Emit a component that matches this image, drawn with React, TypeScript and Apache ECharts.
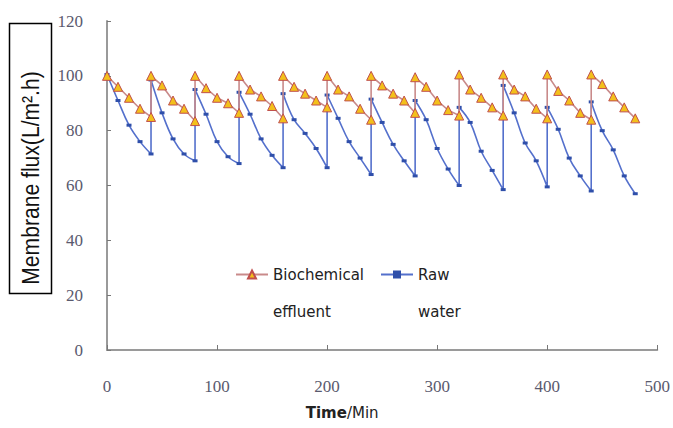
import React, { useEffect, useRef } from "react";
import * as echarts from "echarts";

// Time (min): each 40-min filtration cycle sampled every 10 min; the flux jumps back at each cycle boundary
const timeMin = [
  0, 10, 20, 30, 40,
  40, 50, 60, 70, 80,
  80, 90, 100, 110, 120,
  120, 130, 140, 150, 160,
  160, 170, 180, 190, 200,
  200, 210, 220, 230, 240,
  240, 250, 260, 270, 280,
  280, 290, 300, 310, 320,
  320, 330, 340, 350, 360,
  360, 370, 380, 390, 400,
  400, 410, 420, 430, 440,
  440, 450, 460, 470, 480,
];

const biochemicalEffluent = [
  100, 96, 92, 88, 85,
  100, 96.5, 91, 88, 83.5,
  100, 95.5, 92, 90, 86.5,
  100, 95, 92.5, 89, 84.5,
  100, 96, 93.5, 91, 88.5,
  100, 95, 92.5, 88, 84,
  100, 96.5, 93.5, 91, 86.5,
  99.5, 96, 91, 87.5, 85.5,
  100.5, 95, 92, 88.5, 85.5,
  100.5, 95, 92.5, 88, 84.5,
  100.5, 94.5, 91, 86.5, 84,
  100.5, 97, 92.5, 88.5, 84.5,
];

const rawWater = [
  100.5, 91, 82, 76, 71.5,
  98.5, 86.5, 77, 71.5, 69,
  95, 86, 76, 70.5, 68,
  94, 86, 77, 71, 66.5,
  93.5, 84, 79, 73.5, 66.5,
  93, 84.5, 76, 70, 64,
  91.5, 83, 75, 69, 63.5,
  91, 84, 73.5, 66, 60,
  88.5, 83, 72.5, 65.5, 58.5,
  96.5, 86.5, 75.5, 69, 59.5,
  88.5, 80.5, 70, 63.5, 58,
  90.5, 80, 73, 63.5, 57,
];

const seriesNames = ["Biochemical effluent", "Raw water"];
const legendLabels: Record<string, string> = {
  "Biochemical effluent": "\nBiochemical\neffluent",
  "Raw water": "\nRaw\nwater",
};
const yAxisTitle = "Membrane flux(L/m².h)";
const xAxisTitleBold = "Time";
const xAxisTitleRest = "/Min";

export default function App() {
  const ref = useRef<HTMLDivElement>(null);

  useEffect(() => {
    document.body.style.margin = "0";
    if (!ref.current) return;
    const chart = echarts.init(ref.current, null, { renderer: "svg" });

    const bioData = timeMin.map((t, i) => [t, biochemicalEffluent[i]]);
    const rawData = timeMin.map((t, i) => [t, rawWater[i]]);

    const axisColor = "#9a9a9a";
    const tickFont = {
      fontFamily: "Liberation Serif",
      fontSize: 17,
      color: "#5a5a6e",
    };

    chart.setOption({
      animation: false,
      backgroundColor: "#ffffff",
      grid: { left: 107, right: 10, top: 21, bottom: 78, containLabel: false },
      xAxis: {
        type: "value",
        min: 0,
        max: 500,
        interval: 100,
        name: `{b|${xAxisTitleBold}}{n|${xAxisTitleRest}}`,
        nameLocation: "middle",
        nameGap: 55,
        nameTextStyle: {
          padding: [0, 80, 0, 0],
          rich: {
            b: { fontFamily: "DejaVu Sans", fontSize: 15, fontWeight: "bold", color: "#222" },
            n: { fontFamily: "DejaVu Sans", fontSize: 15, color: "#222" },
          },
        },
        axisLine: { show: true, lineStyle: { color: axisColor, width: 2 } },
        axisTick: { show: true, inside: true, length: 5, lineStyle: { color: "#777" } },
        splitLine: { show: false },
        axisLabel: { ...tickFont, margin: 28 },
      },
      yAxis: {
        type: "value",
        min: 0,
        max: 120,
        interval: 20,
        axisLine: { show: true, lineStyle: { color: axisColor, width: 2 } },
        axisTick: { show: true, inside: true, length: 4, lineStyle: { color: "#777" } },
        splitLine: { show: false },
        axisLabel: { ...tickFont, margin: 24 },
      },
      legend: {
        data: seriesNames,
        left: 235,
        top: 219,
        padding: 0,
        itemWidth: 32,
        itemHeight: 10,
        itemGap: 16,
        formatter: (name: string) => legendLabels[name] ?? name,
        textStyle: {
          fontFamily: "DejaVu Sans",
          fontSize: 15,
          lineHeight: 37,
          color: "#222",
        },
      },
      graphic: [
        {
          type: "rect",
          shape: { x: 9.5, y: 23.5, width: 42, height: 270 },
          style: { fill: "#fff", stroke: "#000", lineWidth: 1.5 },
          z: 10,
        },
        {
          type: "text",
          x: 31,
          y: 178,
          rotation: Math.PI / 2,
          scaleX: 0.88,
          style: {
            text: yAxisTitle,
            fontFamily: "Liberation Sans",
            fontSize: 24,
            fill: "#111",
            align: "center",
            verticalAlign: "middle",
          },
          z: 11,
        },
      ],
      series: [
        {
          name: seriesNames[0],
          type: "line",
          data: bioData,
          smooth: false,
          symbol: "triangle",
          symbolSize: 9,
          lineStyle: { color: "#c98a8a", width: 1.6 },
          itemStyle: { color: "#f3c01b", borderColor: "#c0504d", borderWidth: 1 },
          z: 3,
        },
        {
          name: seriesNames[1],
          type: "line",
          data: rawData,
          smooth: 0.4,
          symbol: "rect",
          symbolSize: [5, 3],
          lineStyle: { color: "#5470cc", width: 1.6 },
          itemStyle: { color: "#2f4faa" },
          z: 2,
        },
      ],
    });

    return () => chart.dispose();
  }, []);

  return <div ref={ref} style={{ width: 673, height: 428 }} />;
}
